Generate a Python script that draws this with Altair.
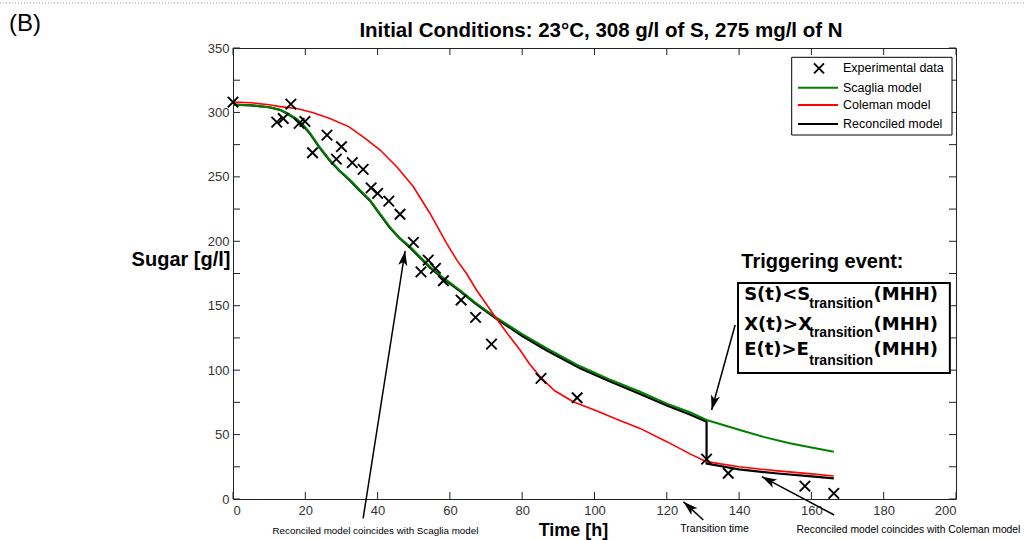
import altair as alt
import pandas as pd

FONT = "Liberation Sans"
BOXFONT = "DejaVu Sans"

# ---------------- data ----------------
exp_t = [0, 12.1, 13.9, 16.0, 18.3, 19.9, 22.0, 26.0, 28.6, 30.0, 33.0, 36.0, 38.2, 40.0,
         43.1, 46.2, 49.9, 52.0, 54.0, 56.0, 58.2, 63.1, 67.1, 71.5, 85.2, 95.2,
         131.0, 137.0, 158.2, 166.2]
exp_s = [308, 292.5, 295.3, 306.4, 291.5, 293, 268.7, 282.4, 263.8, 273.4, 261, 255.8, 241.5, 237.2,
         231.2, 221, 199.1, 176.3, 185.4, 179, 169.4, 154.4, 141, 120.2, 93.6, 78.6,
         31, 20, 10, 4.4]

scaglia_t = [0, 5, 10, 13, 15, 17.6, 19.5, 21.3, 24, 26.8, 29.5, 32.4, 35, 37.9, 40.5, 43.4, 46, 49,
             54.5, 58.5, 62.8, 67, 72.5, 80, 86.7, 96, 104, 112.6, 120, 126.4, 131, 140.2, 147,
             154, 160, 166.2]
scaglia_s = [306, 305.5, 304, 302, 299.5, 295, 290, 284, 273, 263, 255, 247.5, 240, 232, 222, 211,
             203, 195.7, 180.2, 171, 162, 152.5, 141.4, 128, 117, 103, 93, 83.2, 74, 67.3, 61.3,
             53.5, 48, 43.2, 40, 36.7]

coleman_t = [0, 5, 10, 13, 17.6, 22, 26.8, 32, 36, 40.7, 45.3, 49.9, 54.5, 59.1, 62, 64.6, 67.4,
             72.5, 76, 79.4, 82, 84.9, 89, 94.1, 100, 106, 112.6, 120, 126.4, 131, 140, 150, 160,
             166.2]
coleman_s = [308, 307.5, 306, 304.5, 303, 300, 295.3, 289, 281, 270.8, 257.8, 242.3, 221.6, 198.4,
             185, 175, 162, 141.4, 128, 115.6, 105, 95, 84, 75.5, 69, 62, 54.8, 44.5, 35, 29, 25,
             22, 19.5, 17.8]

recon_t = [0, 5, 10, 13, 15, 17.6, 19.5, 21.3, 24, 26.8, 29.5, 32.4, 35, 37.9, 40.5, 43.4, 46, 49,
           54.5, 58.5, 62.8, 67, 72.5, 80, 86.7, 96, 104, 112.6, 120, 126.4, 131, 131, 140, 150,
           160, 166.2]
recon_s = [306, 305.5, 304, 302, 299.2, 294.5, 289.5, 283.5, 272.5, 262.5, 254.5, 247, 239.5, 231.5,
           221.5, 210.5, 202.5, 195, 179.5, 170.3, 161.3, 151.8, 140.6, 126.5, 115.5, 101.5, 91.5,
           81.5, 72.5, 65.5, 60, 27.5, 23, 20, 17.5, 16]

x_ticks = [0, 20, 40, 60, 80, 100, 120, 140, 160, 180, 200]
y_ticks = [0, 25, 50, 75, 100, 125, 150, 175, 200, 225, 250, 275, 300, 325, 350]

# annotation arrows (data units): tail -> tip
arrow_t = [36.0, 138.9, 130.1, 166.3]
arrow_s = [-15.0, 135.0, -16.3, -12.4]
arrow_t2 = [47.6, 132.4, 124.6, 146.3]
arrow_s2 = [192.5, 69.1, -2.1, 17.3]
arrow_ang = [9, 195, 312, 298]

W, H = 723, 451
XS = alt.Scale(domain=[0, 200], nice=False, zero=False)
YS = alt.Scale(domain=[0, 350], nice=False, zero=False)

def curve(ts, ss, color, width):
    df = pd.DataFrame({"t": ts, "s": ss, "i": range(len(ts))})
    return alt.Chart(df).mark_line(color=color, strokeWidth=width, clip=False).encode(
        x=alt.X("t:Q", scale=XS), y=alt.Y("s:Q", scale=YS), order="i:Q")

def one():
    return alt.Data(values=[{"a": 0}])

def ptxt(s, x, y, size, weight="normal", align="left", baseline="alphabetic", font=FONT):
    return alt.Chart(one()).mark_text(text=s, fontSize=size, fontWeight=weight, align=align,
                                      baseline=baseline, font=font, color="black").encode(
        x=alt.value(x), y=alt.value(y))

def dtxt(s, t, v, size, weight="normal", align="left", baseline="alphabetic", font=FONT):
    df = pd.DataFrame({"t": [t], "s": [v]})
    return alt.Chart(df).mark_text(text=s, fontSize=size, fontWeight=weight, align=align,
                                   baseline=baseline, font=font, color="black").encode(
        x=alt.X("t:Q", scale=XS), y=alt.Y("s:Q", scale=YS))

CROSS = "M-1,-1L1,1M1,-1L-1,1"
HEAD = "M0,0L-1.15,3.7L0,2.8L1.15,3.7Z"

exp_df = pd.DataFrame({"t": exp_t, "s": exp_s})
base = alt.Chart(exp_df).mark_point(shape=CROSS, size=110, filled=False, color="black",
                                    strokeWidth=1.9, opacity=1).encode(
    x=alt.X("t:Q", scale=XS, axis=alt.Axis(values=x_ticks, title="Time [h]", grid=False,
            ticks=False, domain=False, labelPadding=5, labelFontSize=13, labelFont=FONT,
            labelColor="#333", labelOverlap=False, titleFontSize=18, titleFont=FONT,
            titleFontWeight="bold", titleColor="black", titleBaseline="alphabetic",
            titleX=340, titleY=36)),
    y=alt.Y("s:Q", scale=YS, axis=alt.Axis(values=y_ticks, title="Sugar [g/l]", grid=False,
            ticks=False, domain=False, labelPadding=4, labelFontSize=13, labelFont=FONT,
            labelColor="#333", labelOverlap=False, titleFontSize=20, titleFont=FONT,
            titleFontWeight="bold", titleColor="black", titleAngle=0, titleAlign="right",
            titleBaseline="alphabetic", titleX=-3, titleY=217)),
)

xt = pd.DataFrame({"t": x_ticks})
yt = pd.DataFrame({"s": y_ticks})
tick_b = alt.Chart(xt).mark_rule(color="#222").encode(x=alt.X("t:Q", scale=XS), y=alt.value(H), y2=alt.value(H - 7))
tick_t = alt.Chart(xt).mark_rule(color="#222").encode(x=alt.X("t:Q", scale=XS), y=alt.value(0), y2=alt.value(7))
tick_l = alt.Chart(yt).mark_rule(color="#222").encode(y=alt.Y("s:Q", scale=YS), x=alt.value(0), x2=alt.value(7))
tick_r = alt.Chart(yt).mark_rule(color="#222").encode(y=alt.Y("s:Q", scale=YS), x=alt.value(W), x2=alt.value(W - 7))

black = curve(recon_t, recon_s, "#000000", 2.2)
green = curve(scaglia_t, scaglia_s, "#008000", 2)
red = curve(coleman_t, coleman_s, "#ff0000", 1.6)

arr_df = pd.DataFrame({"t": arrow_t, "s": arrow_s, "t2": arrow_t2, "s2": arrow_s2, "ang": arrow_ang})
arr_lines = alt.Chart(arr_df).mark_rule(color="black", strokeWidth=1.5).encode(
    x=alt.X("t:Q", scale=XS), y=alt.Y("s:Q", scale=YS), x2="t2:Q", y2="s2:Q")
arr_heads = alt.Chart(arr_df).mark_point(shape=HEAD, size=64, filled=True, color="black",
                                         opacity=1, strokeWidth=0).encode(
    x=alt.X("t2:Q", scale=XS), y=alt.Y("s2:Q", scale=YS), angle=alt.Angle("ang:Q", scale=None))

box_df = pd.DataFrame({"t": [139.7], "t2": [198.3], "s": [167.6], "s2": [97.8]})
box = alt.Chart(box_df).mark_rect(fill="white", stroke="black", strokeWidth=2).encode(
    x=alt.X("t:Q", scale=XS), x2="t2:Q", y=alt.Y("s:Q", scale=YS), y2="s2:Q")

box_texts = [dtxt("Triggering event:", 140.6, 179.3, 20, "bold")]
for main, base_s, sub_s in [("S(t)<S", 154.4, 148.0), ("X(t)>X", 131.2, 125.5), ("E(t)>E", 111.7, 104.0)]:
    box_texts += [
        dtxt(main, 141.4, base_s, 18, "bold", font=BOXFONT),
        dtxt("transition", 159.4, sub_s, 14, "bold"),
        dtxt("(MHH)", 177.2, base_s, 18, "bold", font=BOXFONT),
    ]

notes = [
    dtxt("Reconciled model coincides with Scaglia model", 39.4, -24.8, 9.8, align="center", baseline="middle"),
    dtxt("Transition time", 133.2, -23.3, 10.5, align="center", baseline="middle"),
    dtxt("Reconciled model coincides with Coleman model", 155.9, -24.0, 10.3, align="left", baseline="middle"),
]

leg_box = alt.Chart(one()).mark_rect(fill="white", stroke="black", strokeWidth=1).encode(
    x=alt.value(558.7), x2=alt.value(719), y=alt.value(9.3), y2=alt.value(87))
leg_cross = alt.Chart(one()).mark_point(shape=CROSS, size=100, filled=False, color="black",
                                        strokeWidth=1.9, opacity=1).encode(x=alt.value(586), y=alt.value(20.3))
def leg_line(color, y):
    return alt.Chart(one()).mark_rule(color=color, strokeWidth=2).encode(
        x=alt.value(565), x2=alt.value(605), y=alt.value(y))
leg = [leg_box, leg_cross, leg_line("#008000", 39.7), leg_line("#ff0000", 57), leg_line("#000000", 76),
       ptxt("Experimental data", 610, 20.3, 12.5, baseline="middle"),
       ptxt("Scaglia model", 610, 39.7, 12.5, baseline="middle"),
       ptxt("Coleman model", 610, 57, 12.5, baseline="middle"),
       ptxt("Reconciled model", 610, 76, 12.5, baseline="middle")]

title = ptxt("Initial Conditions: 23°C, 308 g/l of S, 275 mg/l of N", 368, -11, 20.5, "bold", align="center")
panel = ptxt("(B)", -224, -17, 24)
dotted = alt.Chart(one()).mark_rule(color="#999", strokeDash=[1, 2], strokeWidth=1).encode(
    x=alt.value(-233), x2=alt.value(791), y=alt.value(-45))

chart = alt.layer(
    tick_b, tick_t, tick_l, tick_r,
    black, green, red,
    base,
    arr_lines, arr_heads,
    box, *box_texts, *notes, *leg, title, panel, dotted,
).properties(
    width=W, height=H,
    autosize=alt.AutoSizeParams(type="none"),
    padding={"left": 233, "top": 48, "right": 68, "bottom": 41},
    background="white",
).configure_view(stroke="#222", strokeWidth=1)

chart.save("out.html", embed_options={"renderer": "svg", "actions": False})
